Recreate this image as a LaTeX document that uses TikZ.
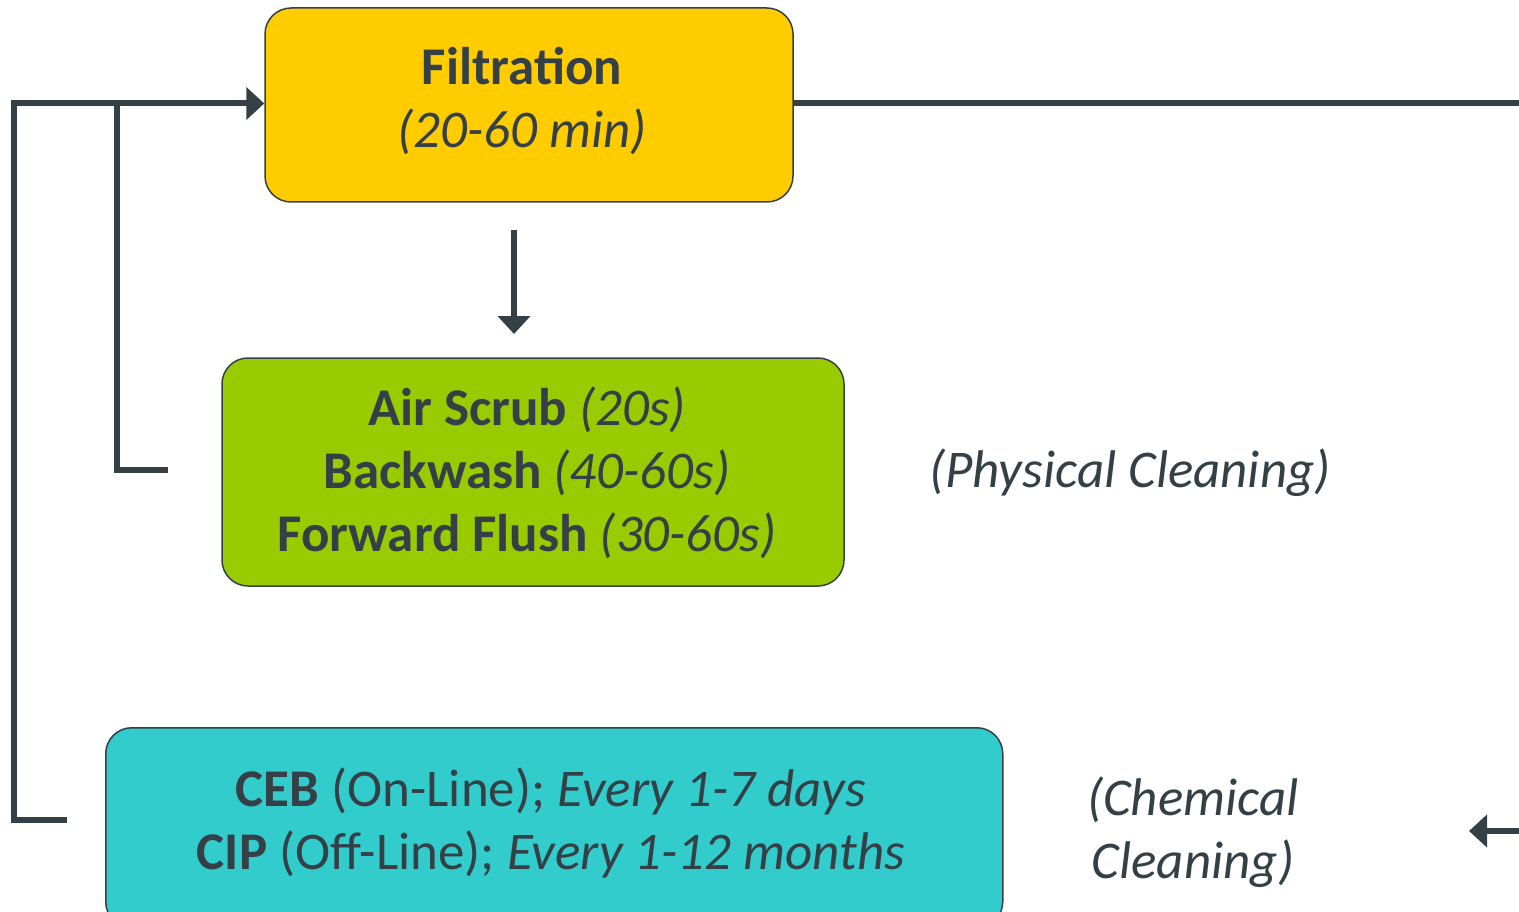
\documentclass[tikz,border=0pt]{standalone}
\usepackage{fontspec}
\setmainfont{Carlito}
\usetikzlibrary{arrows.meta}
\definecolor{ink}{RGB}{52,64,70}
\definecolor{yel}{RGB}{255,204,0}
\definecolor{grn}{RGB}{153,204,0}
\definecolor{cyn}{RGB}{51,204,204}
\tikzset{
  box/.style={draw=ink, line width=1.5pt, rounded corners=26pt, inner sep=0pt},
  txt/.style={text=ink, align=center, font=\fontsize{53}{63}\selectfont},
  conn/.style={draw=ink, line width=6pt},
  tip/.style={-{Triangle[length=18pt,width=32pt]}},
  lbl/.style={text=ink, align=center, font=\fontsize{53}{63}\selectfont\itshape}
}
\begin{document}
\begin{tikzpicture}[x=1pt,y=-1pt]
\useasboundingbox (0,0) rectangle (1519,912);
\node[box, fill=yel, minimum width=528pt, minimum height=194pt] (filt) at (529,105) {};
\node[txt] (filttxt) at (522,101) {\textbf{Filtration}\\\textit{(20-60 min)}};
\node[box, fill=grn, minimum width=622pt, minimum height=228pt] (phys) at (533,472) {};
\node[txt] (phystxt) at (527,473)
  {\textbf{Air Scrub} \textit{(20s)}\\\textbf{Backwash} \textit{(40-60s)}\\\textbf{Forward Flush} \textit{(30-60s)}};
\node[box, fill=cyn, minimum width=897pt, minimum height=200pt, anchor=north west] (chem) at (105,727) {};
\node[txt] (chemtxt) at (551,822.5)
  {\textbf{CEB} (On-Line); \textit{Every 1-7 days}\\\textbf{CIP} (Off-Line); \textit{Every 1-12 months}};
\node[lbl] (physlbl) at (1130,473) {(Physical Cleaning)};
\node[lbl] (chemlbl) at (1193,832) {(Chemical\\Cleaning)};
\coordinate (rtop) at (1522,103.5);
\coordinate (rbot) at (1522,831);
\coordinate (outer) at (14,820);
\coordinate (outerend) at (67,820);
\coordinate (inner) at (117,470);
\coordinate (innerend) at (168,470);
\coordinate (dstart) at (514,230);
\coordinate (dend) at (514,334);
\coordinate (join) at (14,103.5);
\coordinate (ijoin) at (117,103.5);
\draw[conn] (filt.east |- rtop) -- (rtop);
\draw[conn, tip] (rbot) -- (1469,831);
\draw[conn, tip] (dstart) -- (dend);
\draw[conn] (outerend) -- (outer) -- (join) -- (ijoin);
\draw[conn] (innerend) -- (inner) -- (ijoin);
\draw[conn, tip] (join) -- (filt.west |- join);
\end{tikzpicture}
\end{document}
